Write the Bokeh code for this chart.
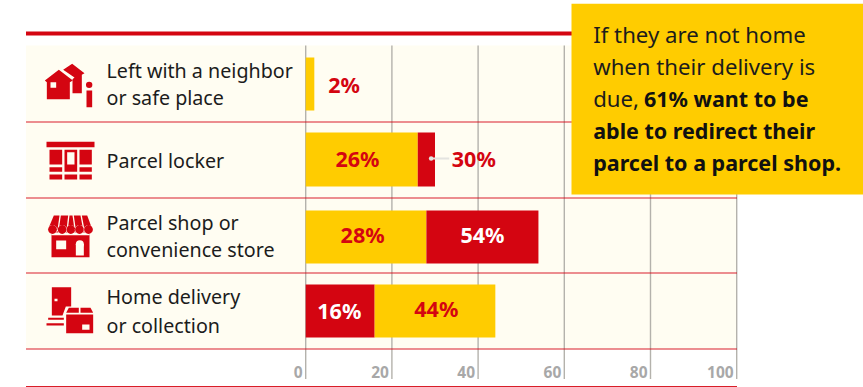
from bokeh.core.properties import value
from bokeh.embed import file_html
from bokeh.models import Range1d
from bokeh.plotting import figure
from bokeh.resources import INLINE

# Survey answers: first segment and the cumulative end of the second one
row_lines = [
    ["Left with a neighbor", "or safe place"],
    ["Parcel locker"],
    ["Parcel shop or", "convenience store"],
    ["Home delivery", "or collection"],
]
first_values = [2, 26, 28, 16]
second_values = [None, 30, 54, 44]
first_colors = ["#ffcc00", "#ffcc00", "#ffcc00", "#d40511"]
second_colors = [None, "#d40511", "#d40511", "#ffcc00"]
first_label_colors = ["#d40511", "#d40511", "#d40511", "#ffffff"]
second_label_colors = [None, "#d40511", "#ffffff", "#d40511"]
tick_values = [0, 20, 40, 60, 80, 100]
callout_regular = ["If they are not home", "when their delivery is", "due,"]
callout_bold = ["61% want to be", "able to redirect their", "parcel to a parcel shop."]

RED = "#d40511"
YELLOW = "#ffcc00"
CREAM = "#fffdf2"
INK = "#1c1c1c"
GREY = "#b4b2ac"
FONT = value("Noto Sans")

# Value axis: 0 sits at x=305.2 px and each percent spans 4.31 px
ORIGIN, UNIT = 305.2, 4.31
WIDTH, HEIGHT = 863, 387

p = figure(
    width=WIDTH, height=HEIGHT, output_backend="svg", toolbar_location=None,
    x_range=Range1d(-ORIGIN / UNIT, (WIDTH - ORIGIN) / UNIT),
    y_range=Range1d(HEIGHT, 0), min_border=0,
    x_axis_location=None, y_axis_location=None,
)
p.extra_x_ranges["px"] = Range1d(0, WIDTH)
p.outline_line_color = None
p.grid.visible = False
p.background_fill_color = "#ffffff"

# Row bands
band_tops = [45, 122, 198, 273]
band_bottoms = [121, 197, 272, 348]
p.quad(left=25.5, right=736, top=band_tops, bottom=band_bottoms,
       x_range_name="px", fill_color=CREAM, line_color=None)

# Vertical grid
p.segment(x0=tick_values, x1=tick_values, y0=45, y1=378.5,
          line_color=GREY, line_width=1.4)

# Rules
p.segment(x0=25.5, x1=572, y0=33, y1=33, x_range_name="px",
          line_color=RED, line_width=4)
rule_ys = [121.5, 197.5, 272.5, 348.5, 386]
p.segment(x0=25.5, x1=736.5, y0=rule_ys, y1=rule_ys, x_range_name="px",
          line_color=RED, line_width=1.2, line_alpha=0.9)

# Bars
bar_tops = [57, 132, 210, 284]
bar_bottoms = [110, 186, 263, 337]
p.quad(left=0, right=first_values, top=bar_tops, bottom=bar_bottoms,
       fill_color=first_colors, line_color=None)
idx = [i for i, v in enumerate(second_values) if v is not None]
p.quad(left=[first_values[i] for i in idx], right=[second_values[i] for i in idx],
       top=[bar_tops[i] for i in idx], bottom=[bar_bottoms[i] for i in idx],
       fill_color=[second_colors[i] for i in idx], line_color=None)

# Leader from the narrow locker segment to its label
p.segment(x0=[29.1], x1=[33.3], y0=[158], y1=[158], line_color="#e4e4e0", line_width=2)
p.scatter(x=[29.1], y=[158], size=4.5, marker="circle", fill_color="#e4e4e0", line_color=None)

# Value labels
label_style = dict(text_font=FONT, text_font_style="bold", text_font_size="21.5px",
                   text_baseline="middle", text_align="center")
first_x = [8.9, 12.0, 13.2, 7.8]
first_y = [84, 158, 234, 310]
p.text(x=first_x, y=first_y, text=[f"{v}%" for v in first_values],
       text_color=first_label_colors, **label_style)
second_x = [39.0, 41.0, 30.3]
p.text(x=second_x, y=[158, 234, 308],
       text=[f"{second_values[i]}%" for i in idx],
       text_color=[second_label_colors[i] for i in idx], **label_style)

# Tick labels
p.text(x=tick_values, y=[371.5] * len(tick_values), text=[str(v) for v in tick_values],
       x_offset=-3, text_color="#a8a8a8", text_font=FONT, text_font_style="bold",
       text_font_size="15.5px", text_align="right", text_baseline="alphabetic")

# Row captions
caption_baselines = [[70, 97], [160], [222, 249], [296, 325]]
xs, ys, words = [], [], []
for lines, bases in zip(row_lines, caption_baselines):
    for line, base in zip(lines, bases):
        xs.append(106)
        ys.append(base)
        words.append(line)
p.text(x=xs, y=ys, text=words, x_range_name="px", text_color=INK, text_font=FONT,
       text_font_size="19.7px", text_baseline="alphabetic")


def shape(points, ox, oy, color=RED):
    """Fill a polygon given in 3x icon-sheet units, anchored at (ox, oy) in pixels."""
    p.patch([ox + a / 3 for a, _ in points], [oy + b / 3 for _, b in points],
            x_range_name="px", fill_color=color, line_color=None)


def box(x0, y0, x1, y1, ox, oy, color=RED):
    shape([(x0, y0), (x1, y0), (x1, y1), (x0, y1)], ox, oy, color)


def dot(cx, cy, size, ox, oy, color=RED):
    p.scatter(x=[ox + cx / 3], y=[oy + cy / 3], size=size, marker="circle",
              x_range_name="px", fill_color=color, line_color=None)


# Neighbour icon: two houses and an info mark
ox, oy = 0, 20
shape([(188, 148), (215, 130), (252, 158), (244, 163), (244, 218), (216, 218),
       (216, 176), (222, 171)], ox, oy)
shape([(133, 180), (175, 148), (217, 180), (208, 185), (208, 236), (139, 236), (139, 185)], ox, oy)
box(150, 185, 167, 202, ox, oy, CREAM)
dot(266, 193, 6.4, ox, oy)
box(258, 210, 275, 260, ox, oy)

# Locker icon
box(138, 364, 282, 380, ox, oy)
for x0, x1 in [(147, 185), (237, 274)]:
    box(x0, 388, x1, 432, ox, oy)
    box(x0, 440, x1, 454, ox, oy)
box(192, 388, 230, 454, ox, oy)
box(200, 395, 222, 432, ox, oy, CREAM)
for x0, x1 in [(147, 185), (192, 230), (237, 274)]:
    box(x0, 462, x1, 477, ox, oy)

# Shop icon: awning and storefront
ox, oy = 0, 200
box(153, 92, 267, 170, ox, oy)
box(167, 120, 197, 146, ox, oy, CREAM)
box(226, 130, 250, 165, ox, oy, CREAM)
dot(238, 131, 8, ox, oy, CREAM)
awning = [
    ((160, 45), (177, 45), (171, 88), (142, 88)),
    ((181, 45), (203, 45), (198, 88), (175, 88)),
    ((207, 45), (216, 45), (222, 88), (202, 88)),
    ((220, 45), (240, 45), (248, 88), (226, 88)),
    ((244, 45), (260, 45), (276, 88), (252, 88)),
]
scallops = [156, 185, 211, 237, 264]
box(153, 96, 267, 104, ox, oy, CREAM)
for seg, cx in zip(awning, scallops):
    shape(list(seg), ox, oy)
    dot(cx, 88, 9.5, ox, oy, CREAM)
    dot(cx, 87, 8.8, ox, oy)

# Home delivery icon: door, parcel and motion lines
ox, oy = 0, 200
shape([(154, 260), (212, 260), (212, 318), (196, 318), (186, 345), (154, 345)], ox, oy)
box(162, 295, 171, 302, ox, oy, CREAM)
box(143, 352, 190, 358, ox, oy)
box(138, 368, 190, 375, ox, oy)
shape([(205, 322), (235, 322), (235, 337), (197, 337)], ox, oy)
shape([(240, 322), (270, 322), (278, 337), (240, 337)], ox, oy)
box(197, 342, 278, 398, ox, oy)
box(245, 372, 267, 388, ox, oy, CREAM)

# Callout panel
p.quad(left=571, right=863, top=3.3, bottom=194, x_range_name="px",
       fill_color=YELLOW, line_color=None)
regular_base = [34, 66, 98]
bold_base = [98, 130, 162]
p.text(x=[592.7] * 3, y=regular_base, text=callout_regular, x_range_name="px",
       text_color=INK, text_font=FONT, text_font_size="22.2px", text_baseline="alphabetic")
p.text(x=[643.5, 592.7, 592.7], y=bold_base, text=callout_bold, x_range_name="px",
       text_color="#111111", text_font=FONT, text_font_style="bold", text_font_size="21.5px",
       text_baseline="alphabetic")

open("out.html", "w").write(file_html(p, INLINE))
